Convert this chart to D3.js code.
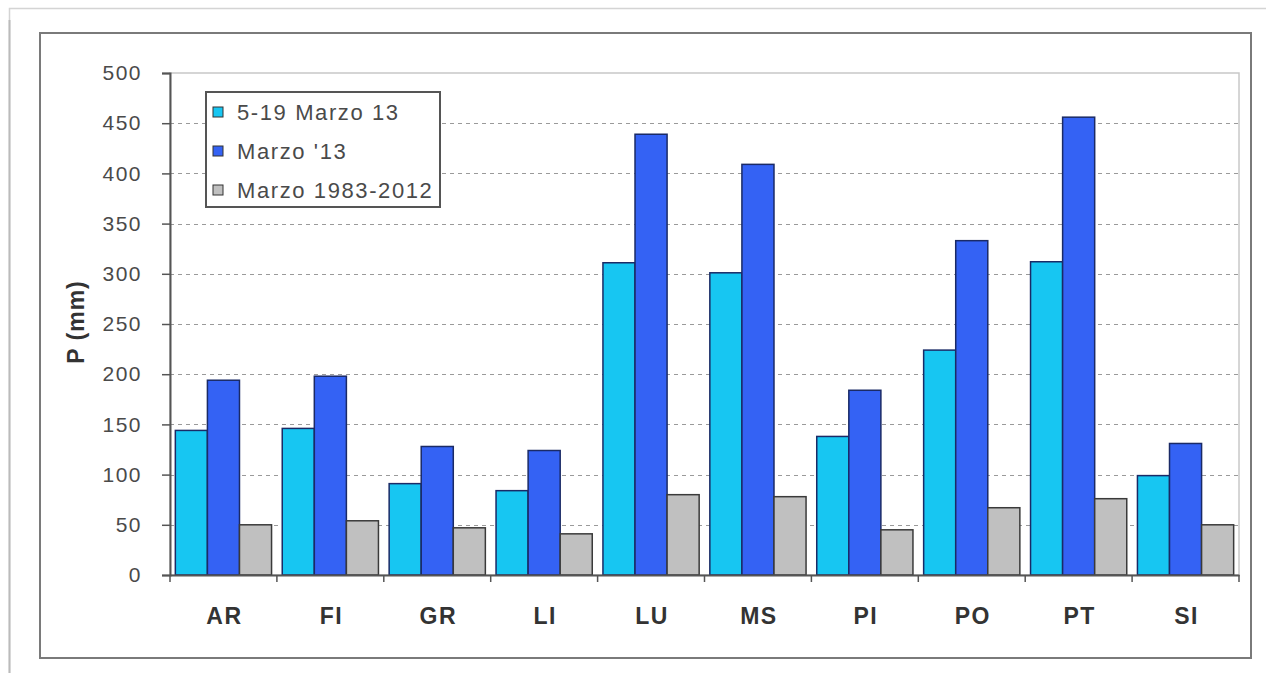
<!DOCTYPE html>
<html>
<head>
<meta charset="utf-8">
<script src="https://cdn.jsdelivr.net/npm/d3@7"></script>
<style>
  body { margin: 0; background: #fff; }
  svg { display: block; font-family: "Liberation Sans", Arial, sans-serif; }
</style>
</head>
<body>
<svg id="chart" width="1266" height="673"></svg>
<script>
// province codes on the x axis
var provinces = ["AR", "FI", "GR", "LI", "LU", "MS", "PI", "PO", "PT", "SI"];
// series names, as shown in the legend
var seriesNames = ["5-19 Marzo 13", "Marzo '13", "Marzo 1983-2012"];
// rainfall in mm
var marzo5to19 = [144, 146, 91, 84, 311, 301, 138, 224, 312, 99];
var marzo13 = [194, 198, 128, 124, 439, 409, 184, 333, 456, 131];
var marzoClima = [50, 54, 47, 41, 80, 78, 45, 67, 76, 50];
var yTicks = [0, 50, 100, 150, 200, 250, 300, 350, 400, 450, 500];

var colors = ["#17c6f2", "#3462f4", "#c0c0c0"];
var allSeries = [marzo5to19, marzo13, marzoClima];

var svg = d3.select("#chart");

// outer picture frame
svg.append("rect")
    .attr("x", 9.5).attr("y", 8.5)
    .attr("width", 1270).attr("height", 680)
    .attr("fill", "none")
    .attr("stroke", "#d4d4d4")
    .attr("stroke-width", 1.5);
svg.append("line")
    .attr("x1", 9.5).attr("x2", 9.5)
    .attr("y1", 20).attr("y2", 673)
    .attr("stroke", "#bbb").attr("stroke-width", 2);

// chart area border
svg.append("rect")
    .attr("x", 40).attr("y", 33)
    .attr("width", 1211).attr("height", 625)
    .attr("fill", "#fff")
    .attr("stroke", "#7a7a7a")
    .attr("stroke-width", 2);

var plotLeft = 170, plotRight = 1239, plotTop = 73, plotBottom = 575;

var x = d3.scaleBand()
    .domain(provinces)
    .range([plotLeft, plotRight])
    .paddingInner(0.1)
    .paddingOuter(0.05);

var xBand = d3.scaleBand()
    .domain(provinces)
    .range([plotLeft, plotRight]);

var xSub = d3.scaleBand()
    .domain(d3.range(seriesNames.length))
    .range([0, x.bandwidth()]);

var y = d3.scaleLinear()
    .domain([0, 500])
    .range([plotBottom, plotTop]);

// plot area border
svg.append("rect")
    .attr("x", plotLeft).attr("y", plotTop)
    .attr("width", plotRight - plotLeft).attr("height", plotBottom - plotTop)
    .attr("fill", "none")
    .attr("stroke", "#c8c8c8")
    .attr("stroke-width", 1.5);

// dashed grid lines
svg.append("g").selectAll("line")
    .data(yTicks.filter(function(d) { return d > 0 && d < 500; }))
    .enter().append("line")
    .attr("x1", plotLeft).attr("x2", plotRight)
    .attr("y1", function(d) { return Math.round(y(d)) + 0.5; })
    .attr("y2", function(d) { return Math.round(y(d)) + 0.5; })
    .attr("stroke", "#9a9a9a")
    .attr("stroke-width", 1.2)
    .attr("stroke-dasharray", "4,4");

// bars
var groups = svg.append("g").selectAll("g")
    .data(provinces)
    .enter().append("g")
    .attr("transform", function(d) { return "translate(" + x(d) + ",0)"; });

groups.selectAll("rect")
    .data(function(d, i) {
        return allSeries.map(function(s, k) { return { k: k, v: s[i] }; });
    })
    .enter().append("rect")
    .attr("x", function(d) { return xSub(d.k); })
    .attr("width", xSub.bandwidth())
    .attr("y", function(d) { return y(d.v); })
    .attr("height", function(d) { return plotBottom - y(d.v); })
    .attr("fill", function(d) { return colors[d.k]; })
    .attr("stroke", function(d) { return d.k == 2 ? "#3a3a3a" : "#1a2a66"; })
    .attr("stroke-width", 1.5);

// y axis
var yAxis = d3.axisLeft(y).tickValues(yTicks).tickSize(8).tickPadding(20);
var gy = svg.append("g")
    .attr("transform", "translate(" + plotLeft + ",0)")
    .call(yAxis);
gy.select(".domain").attr("stroke", "#555").attr("stroke-width", 2);
gy.selectAll(".tick line").attr("stroke", "#555").attr("stroke-width", 1.5).attr("x2", 0).attr("x1", -8);
gy.selectAll(".tick text")
    .attr("font-size", 21)
    .attr("letter-spacing", 1.5)
    .attr("fill", "#4a4a4a")
    .attr("font-family", "Liberation Sans, Arial, sans-serif");

// x axis
var xAxis = d3.axisBottom(xBand).tickSize(0).tickPadding(33);
var gx = svg.append("g")
    .attr("transform", "translate(0," + plotBottom + ")")
    .call(xAxis);
gx.select(".domain").attr("stroke", "#555").attr("stroke-width", 2);
gx.selectAll(".tick text")
    .attr("font-size", 23)
    .attr("font-weight", "bold")
    .attr("letter-spacing", 1.5)
    .attr("dx", 1)
    .attr("fill", "#333")
    .attr("font-family", "Liberation Sans, Arial, sans-serif");

// small tick marks between categories
svg.append("g").selectAll("line")
    .data(provinces.concat(["end"]))
    .enter().append("line")
    .attr("x1", function(d, i) { return i < provinces.length ? xBand(d) : plotRight; })
    .attr("x2", function(d, i) { return i < provinces.length ? xBand(d) : plotRight; })
    .attr("y1", plotBottom).attr("y2", plotBottom + 7)
    .attr("stroke", "#555").attr("stroke-width", 1.5);

// y title
svg.append("text")
    .attr("transform", "translate(84,322) rotate(-90)")
    .attr("text-anchor", "middle")
    .attr("font-size", 23)
    .attr("font-weight", "bold")
    .attr("letter-spacing", 1)
    .attr("fill", "#333")
    .text("P (mm)");

// legend
var legend = svg.append("g").attr("transform", "translate(206,92)");
legend.append("rect")
    .attr("width", 234).attr("height", 115)
    .attr("fill", "#fff")
    .attr("stroke", "#555")
    .attr("stroke-width", 2);

var items = legend.selectAll(".item")
    .data(seriesNames)
    .enter().append("g")
    .attr("class", "item")
    .attr("transform", function(d, i) { return "translate(0," + (20 + i * 39) + ")"; });

items.append("rect")
    .attr("x", 7).attr("y", -5)
    .attr("width", 10).attr("height", 10)
    .attr("fill", function(d, i) { return colors[i]; })
    .attr("stroke", "#333").attr("stroke-width", 1);

items.append("text")
    .attr("x", 31).attr("y", 8)
    .attr("font-size", 22)
    .attr("letter-spacing", 1.6)
    .attr("fill", "#4a4a4a")
    .text(function(d) { return d; });
</script>
</body>
</html>
